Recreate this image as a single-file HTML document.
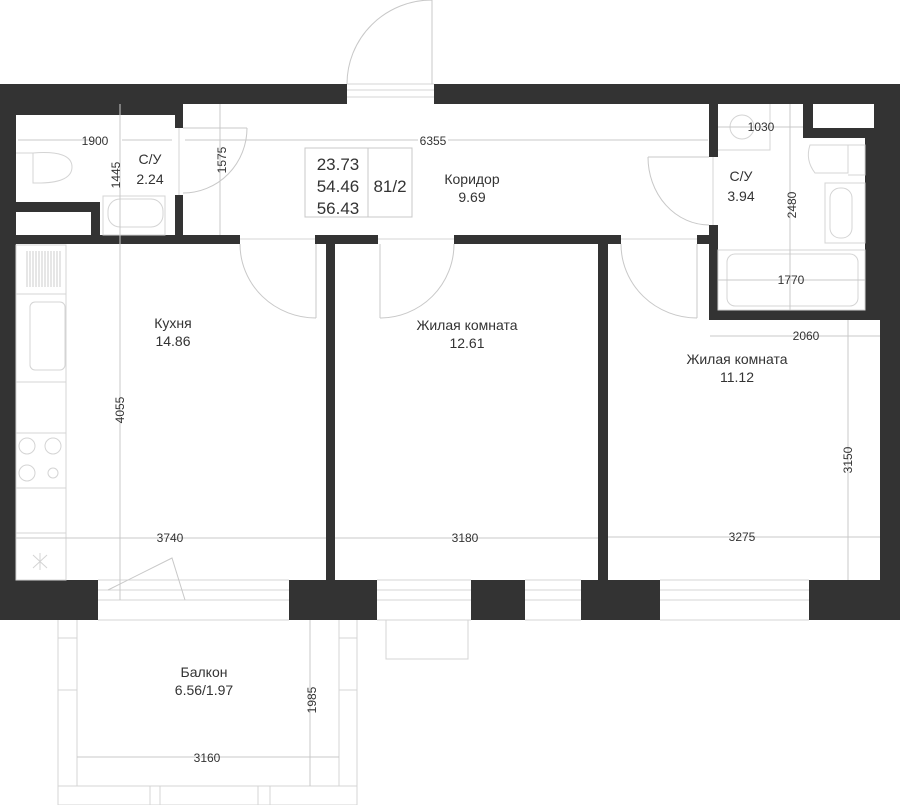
<!DOCTYPE html>
<html><head><meta charset="utf-8"><style>
html,body{margin:0;padding:0;background:#fff;}
svg{display:block;font-family:"Liberation Sans","Noto Sans CJK SC",sans-serif;}
.w{fill:#333;}
.t{fill:#333;font-size:14px;text-anchor:middle;}
.d{fill:#333;font-size:12px;text-anchor:middle;}
.l{stroke:#c8c8c8;stroke-width:1;fill:none;}
.f{stroke:#d4d4d4;stroke-width:1;fill:none;}
</style></head><body>
<svg width="900" height="805" viewBox="0 0 900 805">
<defs><marker id="a" markerWidth="8" markerHeight="6" refX="8" refY="3" orient="auto-start-reverse"><path d="M0,1.5 L8,3 L0,4.5z" fill="#333"/></marker></defs>
<!-- walls -->
<rect class="w" x="0" y="84" width="347" height="20"/>
<rect class="w" x="434" y="84" width="466" height="20"/>
<rect class="w" x="0" y="84" width="183" height="31"/>
<rect class="w" x="175" y="84" width="8" height="44"/>
<rect class="w" x="175" y="195" width="8" height="49"/>
<rect class="w" x="0" y="84" width="16" height="536"/>
<rect class="w" x="16" y="202" width="84" height="10"/>
<rect class="w" x="91" y="202" width="9" height="42"/>
<rect class="w" x="16" y="235" width="224" height="9"/>
<rect class="w" x="315" y="235" width="63" height="9"/>
<rect class="w" x="454" y="235" width="167" height="9"/>
<rect class="w" x="697" y="235" width="21" height="9"/>
<rect class="w" x="326" y="235" width="9" height="345"/>
<rect class="w" x="598" y="235" width="10" height="345"/>
<rect class="w" x="709" y="104" width="9" height="53"/>
<rect class="w" x="709" y="225" width="9" height="95"/>
<rect class="w" x="709" y="310" width="191" height="10"/>
<rect class="w" x="865" y="84" width="35" height="236"/>
<rect class="w" x="803" y="104" width="62" height="34"/>
<rect fill="#fff" x="813" y="104" width="61" height="24"/>
<rect class="w" x="880" y="310" width="20" height="310"/>
<rect class="w" x="0" y="580" width="98" height="40"/>
<rect class="w" x="289" y="580" width="88" height="40"/>
<rect class="w" x="471" y="580" width="54" height="40"/>
<rect class="w" x="581" y="580" width="79" height="40"/>
<rect class="w" x="809" y="580" width="91" height="40"/>
<rect class="w" x="326" y="575" width="9" height="10"/>
<!-- windows -->
<g class="f">
<path d="M98,580H289M98,620H289M98,590H289M98,600H289M377,580H471M377,620H471M377,590H471M377,600H471M525,580H581M525,620H581M525,590H581M525,600H581M660,580H809M660,620H809M660,590H809M660,600H809"/>
<path d="M347,84H434M347,90H434M347,97H434M240,239H315M378,239H454M621,239H697M179,128V195M713,157V225"/>
<rect x="386" y="620" width="82" height="39"/>
</g>
<!-- doors -->
<g class="l">
<path d="M432,0V84M347,84A85,84 0 0 1 432,0"/>
<path d="M183,128H247M247,128A64,65 0 0 1 183,193"/>
<path d="M648,157H709M648,157A61,68 0 0 0 709,225"/>
<path d="M316,244V318M240,244A76,74 0 0 0 316,318"/>
<path d="M380,244V318M380,318A74,74 0 0 0 454,244"/>
<path d="M697,244V318M621,244A76,74 0 0 0 697,318"/>
<path d="M108,590L172,558L185,600"/>
</g>
<!-- balcony -->
<g class="f">
<path d="M58,620V805M77,620V786M339,620V786M357,620V805M58,786H357M58,805H357M58,638H77M58,690H77M339,638H357M339,690H357M150,786V805M160,786V805M258,786V805M270,786V805"/>
</g>
<!-- fixtures -->
<g class="f">
<path d="M16,153H33M33,153Q72,150 72,167Q72,184 33,183Z"/>
<rect x="103" y="196" width="62" height="39"/>
<rect x="108" y="199" width="55" height="28" rx="12"/>
<rect x="16" y="245" width="50" height="335"/>
<path d="M16,294H66M16,382H66M16,433H66M16,488H66M16,533H66"/>
<g stroke="#ccc"><path d="M27,251V287M30,251V287M33,251V287M36,251V287M39,251V287M42,251V287M45,251V287M48,251V287M51,251V287M54,251V287M57,251V287M60,251V287"/></g>
<rect x="30" y="302" width="35" height="68" rx="5"/>
<circle cx="27" cy="446" r="8"/><circle cx="53" cy="446" r="8"/><circle cx="27" cy="473" r="8"/><circle cx="53" cy="473" r="5"/>
<path d="M33,555L47,568M47,555L33,568M40,553V570"/>
<circle cx="742" cy="127" r="12"/>
<path d="M770,104V150H718"/>
<path d="M848,145H810Q805,160 815,173H848Z M848,145H865V175H848"/>
<rect x="825" y="183" width="40" height="60"/>
<rect x="830" y="188" width="22" height="50" rx="10"/>
<rect x="718" y="250" width="147" height="60"/>
<rect x="727" y="254" width="131" height="52" rx="8"/>
</g>
<!-- dims -->
<g class="l" stroke="#bbb">
<path d="M18,140H100M122,140H172" />
<line x1="120" y1="104" x2="120" y2="600"/>
<line x1="220" y1="104" x2="220" y2="235" />
<line x1="185" y1="140" x2="708" y2="140"/>
<line x1="790" y1="104" x2="790" y2="310"/>
<line x1="718" y1="127" x2="803" y2="127"/>
<line x1="718" y1="280" x2="865" y2="280"/>
<line x1="710" y1="336" x2="880" y2="336"/>
<line x1="848" y1="320" x2="848" y2="580"/>
<line x1="16" y1="538" x2="326" y2="538"/>
<line x1="335" y1="538" x2="598" y2="538"/>
<line x1="608" y1="537" x2="880" y2="537"/>
<line x1="77" y1="757" x2="339" y2="757"/>
<line x1="310" y1="620" x2="310" y2="786"/>
<rect x="305" y="148" width="107" height="69"/>
<line x1="368" y1="148" x2="368" y2="217"/>
</g>
<!-- labels -->
<g class="d">
<rect x="92" y="132" width="20" height="14" fill="#fff"/>
<text x="95" y="145">1900</text>
<rect x="418" y="132" width="30" height="14" fill="#fff"/><text x="433" y="145">6355</text>
<text x="761" y="131">1030</text>
<text x="791" y="284">1770</text>
<text x="806" y="340">2060</text>
<text x="170" y="542">3740</text>
<text x="465" y="542">3180</text>
<text x="742" y="541">3275</text>
<text x="207" y="762">3160</text>
<text transform="translate(120,175) rotate(-90)" x="0" y="0">1445</text>
<text transform="translate(226,160) rotate(-90)">1575</text>
<text transform="translate(796,205) rotate(-90)">2480</text>
<text transform="translate(124,410) rotate(-90)">4055</text>
<text transform="translate(852,460) rotate(-90)">3150</text>
<text transform="translate(316,700) rotate(-90)">1985</text>
</g>
<g class="t">
<text x="150" y="164">С/У</text><text x="150" y="184">2.24</text>
<text x="741" y="181">С/У</text><text x="741" y="201">3.94</text>
<text x="472" y="184">Коридор</text><text x="472" y="202">9.69</text>
<text x="173" y="328">Кухня</text><text x="173" y="346">14.86</text>
<text x="467" y="330">Жилая комната</text><text x="467" y="348">12.61</text>
<text x="737" y="364">Жилая комната</text><text x="737" y="382">11.12</text>
<text x="204" y="677">Балкон</text><text x="204" y="695">6.56/1.97</text>
<g style="font-size:17px"><text x="338" y="170">23.73</text><text x="338" y="192">54.46</text><text x="338" y="214">56.43</text><text x="390" y="192">81/2</text></g>
</g>
</svg>
</body></html>
